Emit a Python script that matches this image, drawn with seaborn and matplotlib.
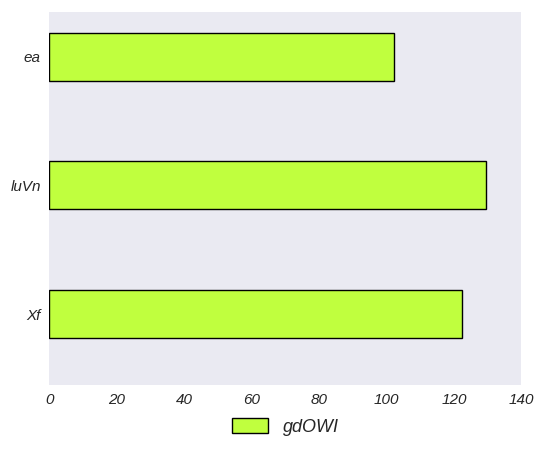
import pandas as pd
import numpy as np
import matplotlib.pyplot as plt
import seaborn as sns

# data
categories = ['ea', 'luVn', 'Xf']
values = [102.2, 129.5, 122.4]
series_name = 'gdOWI'

df = pd.DataFrame({'category': categories, 'value': values, 'series': series_name})

sns.set_theme(style='dark')
plt.rcParams['font.family'] = ['Liberation Sans', 'DejaVu Sans']
plt.rcParams['font.style'] = 'italic'

fig, ax = plt.subplots(figsize=(5.46, 4.68), dpi=100)
fig.subplots_adjust(left=0.09, right=0.955, top=0.975, bottom=0.177)

sns.barplot(data=df, x='value', y='category', hue='series', orient='h',
            palette=['#C0FF3E'], saturation=1, edgecolor='black', linewidth=1.0,
            width=0.375, ax=ax)

for s in ax.spines.values():
    s.set_visible(False)
ax.set_xlim(0, 140)
ax.set_ylim(2.553, -0.35)
ax.set_xticks(np.arange(0, 141, 20))
ax.set_xlabel('')
ax.set_ylabel('')
ax.tick_params(axis='both', labelsize=11, labelcolor='#262626', length=0, pad=6)
for lab in ax.get_xticklabels() + ax.get_yticklabels():
    lab.set_fontstyle('italic')

ax.legend(loc='upper center', bbox_to_anchor=(0.5, -0.045), frameon=False,
          prop={'size': 13, 'style': 'italic'}, handlelength=2.0, handleheight=0.9)

plt.savefig('out.png', dpi=100)
